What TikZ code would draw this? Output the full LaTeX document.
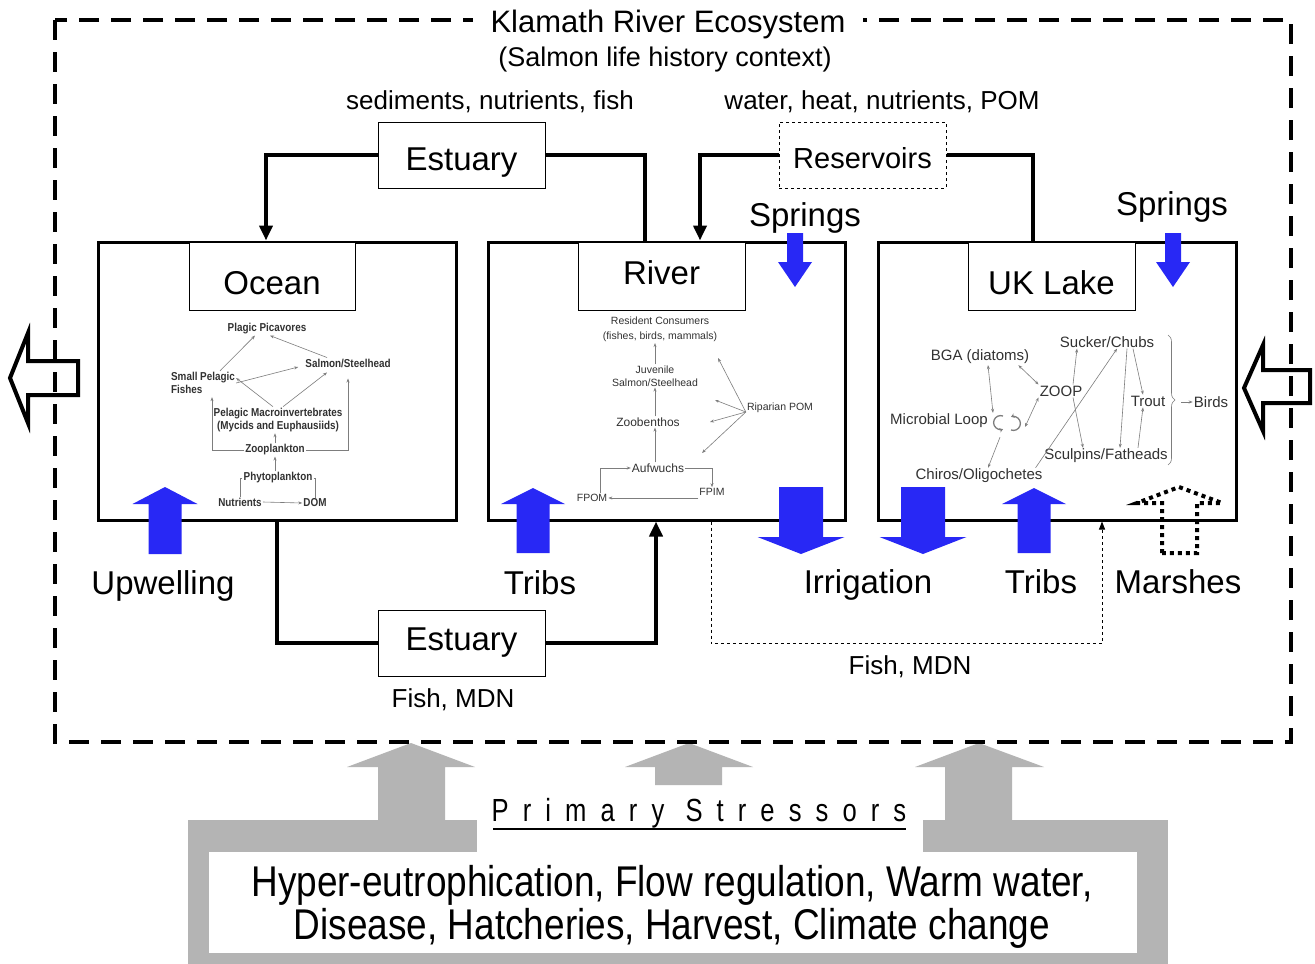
\documentclass[tikz,border=0pt]{standalone}
\usepackage{fontspec}
\setmainfont{Liberation Sans}
\newfontfamily\narrowfont{Liberation Sans}[FakeStretch=0.86]
\newfontfamily\spacedfont{Liberation Sans}[LetterSpace=44,FakeStretch=0.8]
\usetikzlibrary{arrows.meta,decorations.pathreplacing}
\definecolor{ablue}{RGB}{40,40,245}
\definecolor{sgray}{RGB}{180,180,180}
\definecolor{webgray}{RGB}{125,125,125}
\definecolor{webtext}{RGB}{50,50,50}
\begin{document}
\begin{tikzpicture}[x=1pt,y=-1pt,
 bigtxt/.style={font=\fontsize{33}{38}\selectfont},
 flowtxt/.style={font=\fontsize{26}{30}\selectfont},
 mainbox/.style={draw, line width=3pt, inner sep=0pt},
 lblbox/.style={draw, fill=white, line width=1pt, inner sep=0pt, bigtxt},
 conn/.style={line width=4pt},
 conntip/.style={-{Triangle[length=15pt,width=13pt]}},
 bluearr/.style={fill=ablue},
 oweb/.style={font=\narrowfont\bfseries\fontsize{11.5}{13.5}\selectfont, text=webtext, inner sep=1pt, align=center},
 rweb/.style={font=\fontsize{12}{14}\selectfont, text=webtext, inner sep=1pt, align=center},
 uweb/.style={font=\fontsize{15}{18}\selectfont, text=webtext, inner sep=1pt},
 wline/.style={draw=webgray, line width=0.6pt},
 wa/.style={wline, -{Stealth[length=4pt,width=3pt]}},
 wb/.style={wline, {Stealth[length=4pt,width=3pt]}-{Stealth[length=4pt,width=3pt]}},
]
\useasboundingbox (0,0) rectangle (1315,964);
\fill[white] (0,0) rectangle (1315,964);

% ---------- stressors (gray) ----------
\fill[sgray] (188,820) rectangle (1168,964);
\fill[sgray] (378,820) -- (378,767) -- (347,767) -- (411,743) -- (475,767) -- (445,767) -- (445,820) -- cycle;
\fill[sgray] (655,785) -- (655,767) -- (625,767) -- (689,743) -- (753,767) -- (722,767) -- (722,785) -- cycle;
\fill[sgray] (945,820) -- (945,767) -- (915,767) -- (979,743) -- (1044,767) -- (1012,767) -- (1012,820) -- cycle;
\fill[white] (209,852) rectangle (1137,953);
\fill[white] (477,798) rectangle (923,852);
\node[font=\spacedfont\fontsize{32}{34}\selectfont, inner sep=0pt] (ps) at (699,813) {Primary Stressors};
\draw[line width=1.5pt] (493,829) -- (906,829);
\node[font=\narrowfont\fontsize{43}{43}\selectfont, align=center, inner sep=0pt] (stress) at (672,907)
 {Hyper-eutrophication, Flow regulation, Warm water,\\Disease, Hatcheries, Harvest, Climate change};

% ---------- open side arrows ----------
\draw[line width=4pt, fill=white, line join=miter] (78,361) -- (28,361) -- (28,333) -- (10,378) -- (28,423) -- (28,395) -- (78,395) -- cycle;
\draw[line width=4pt, fill=white, line join=miter] (1310,370) -- (1263,370) -- (1263,345) -- (1244,388) -- (1263,431) -- (1263,403) -- (1310,403) -- cycle;

% ---------- outer border and title ----------
\draw[line width=4pt, dash pattern=on 20pt off 12pt] (55,20) rectangle (1291,742);
\node[fill=white, inner xsep=18pt, inner ysep=3pt, font=\fontsize{31}{34}\selectfont] (title) at (668,24) {Klamath River Ecosystem};
\node[font=\fontsize{27}{30}\selectfont] (subtitle) at (665,60) {(Salmon life history context)};
\node[flowtxt] (flowA) at (490,102) {sediments, nutrients, fish};
\node[flowtxt] (flowB) at (882,102) {water, heat, nutrients, POM};

% helper x positions
\coordinate (x266) at (266,0);
\coordinate (x277) at (277,0);
\coordinate (x645) at (645,0);
\coordinate (x656) at (656,0);
\coordinate (x700) at (700,0);
\coordinate (x711) at (711,0);
\coordinate (x1033) at (1033,0);
\coordinate (x1102) at (1102,0);

% ---------- main boxes ----------
\node[mainbox, minimum width=358, minimum height=278] (ocean) at (277,381) {};
\node[mainbox, minimum width=357, minimum height=278] (river) at (666.5,381) {};
\node[mainbox, minimum width=358, minimum height=278] (uk) at (1057,381) {};
\node[lblbox, minimum width=166, minimum height=68] (oceanlbl) at (272,276) {\raisebox{-18pt}[0pt][0pt]{Ocean}};
\node[lblbox, minimum width=167, minimum height=68] (riverlbl) at (661.5,276) {\raisebox{-8pt}[0pt][0pt]{River}};
\node[lblbox, minimum width=167, minimum height=68] (uklbl) at (1051.5,276) {\raisebox{-18pt}[0pt][0pt]{UK Lake}};

% ---------- estuary / reservoirs ----------
\node[lblbox, minimum width=167, minimum height=66] (estA) at (461.5,155) {\raisebox{-15pt}[0pt][0pt]{Estuary}};
\node[lblbox, dashed, minimum width=167, minimum height=66, font=\fontsize{29}{34}\selectfont] (res) at (862.5,155) {\raisebox{-13.5pt}[0pt][0pt]{Reservoirs}};
\node[lblbox, minimum width=167, minimum height=66] (estB) at (461.5,643) {\raisebox{-7pt}[0pt][0pt]{Estuary}};

\draw[conn, conntip] (estA.west) -| (ocean.north -| x266);
\draw[conn] (estA.east) -| (river.north -| x645);
\draw[conn, conntip] (res.west) -| (river.north -| x700);
\draw[conn] (res.east) -| (uk.north -| x1033);
\draw[conn] (ocean.south -| x277) |- (estB.west);
\draw[conn, conntip] (estB.east) -| (river.south -| x656);
\draw[line width=1pt, dashed, -{Triangle[length=8pt,width=6pt]}] (river.south -| x711) -- ++(0,122) -| (uk.south -| x1102);
\node[flowtxt] (fishA) at (453,700) {Fish, MDN};
\node[flowtxt] (fishB) at (910,667) {Fish, MDN};

% ---------- blue arrows ----------
\fill[bluearr] (148.5,554) -- (148.5,504) -- (132.5,504) -- (165,487) -- (197.5,504) -- (181.5,504) -- (181.5,554) -- cycle;
\fill[bluearr] (516.5,553) -- (516.5,504) -- (501,504) -- (533,488) -- (565,504) -- (549.5,504) -- (549.5,553) -- cycle;
\fill[bluearr] (1017.5,553) -- (1017.5,504) -- (1002,504) -- (1034,488) -- (1066,504) -- (1050.5,504) -- (1050.5,553) -- cycle;
\fill[bluearr] (779,487) -- (779,537) -- (757.5,537) -- (801,554) -- (844.5,537) -- (823,537) -- (823,487) -- cycle;
\fill[bluearr] (901,487) -- (901,537) -- (879.5,537) -- (923,554) -- (966.5,537) -- (945,537) -- (945,487) -- cycle;
\fill[bluearr] (787,233) -- (787,262) -- (778,262) -- (795,287) -- (812,262) -- (803,262) -- (803,233) -- cycle;
\fill[bluearr] (1165,233) -- (1165,262) -- (1156,262) -- (1173,287) -- (1190,262) -- (1181,262) -- (1181,233) -- cycle;

% marshes dotted arrow
\draw[line width=4pt, dash pattern=on 4pt off 4pt] (1162,553) -- (1162,503) -- (1137,503) -- (1179,487) -- (1222,503) -- (1197,503) -- (1197,553) -- cycle;

\node[bigtxt] (springsA) at (805,218) {Springs};
\node[bigtxt] (springsB) at (1172,207) {Springs};
\node[bigtxt] (upw) at (163,586) {Upwelling};
\node[bigtxt] (tribsA) at (540,583) {Tribs};
\node[bigtxt] (irr) at (868,585) {Irrigation};
\node[bigtxt] (tribsB) at (1041,582) {Tribs};
\node[bigtxt] (marsh) at (1178,582) {Marshes};

% ---------- Ocean food web ----------
\node[oweb] (pp) at (267,329) {Plagic Picavores};
\node[oweb] (sal) at (348,363) {Salmon/Steelhead};
\node[oweb, align=left] (spf) at (203,383) {Small Pelagic\\Fishes};
\node[oweb] (mac) at (278,420) {Pelagic Macroinvertebrates\\(Mycids and Euphausiids)};
\node[oweb] (zoo) at (275,450) {Zooplankton};
\node[oweb] (phy) at (278,478) {Phytoplankton};
\node[oweb] (nut) at (240,502) {Nutrients};
\node[oweb] (dom) at (315,503) {DOM};
\draw[wa] ([xshift=17pt]spf.north) -- ([xshift=-12pt]pp.south);
\draw[wa] ([xshift=-21pt]sal.north) -- ([xshift=3pt]pp.south);
\draw[wa] (spf.east) -- ([xshift=-6pt,yshift=-4pt]sal.west);
\draw[wa] ([xshift=-5pt]mac.north) -- ([yshift=5pt]spf.east);
\draw[wa] ([xshift=5pt]mac.north) -- ([xshift=-21pt,yshift=-4pt]sal.south);
\draw[wa] (zoo.north) -- (zoo.north |- mac.south);
\draw[wa] (zoo.west) -| ([xshift=9pt,yshift=-2pt]spf.south);
\draw[wa] (zoo.east) -| ([yshift=-10pt]sal.south);
\draw[wa] (phy.north -| zoo.south) -- (zoo.south);
\draw[wline] (phy.west) -| (nut.north);
\draw[wline] (phy.east) -| (dom.north);
\draw[wa] (nut.east) -- (dom.west);

% ---------- River food web ----------
\node[rweb, font=\fontsize{10.5}{15}\selectfont] (rc) at (660,329.5) {Resident Consumers\\(fishes, birds, mammals)};
\node[rweb, font=\fontsize{10.5}{13}\selectfont] (juv) at (655,376) {Juvenile\\Salmon/Steelhead};
\node[rweb] (zb) at (648,422) {Zoobenthos};
\node[rweb, font=\fontsize{10.5}{12}\selectfont] (rip) at (780,408) {Riparian POM};
\node[rweb] (auf) at (658,468) {Aufwuchs};
\node[rweb, font=\fontsize{10.5}{12}\selectfont] (fpom) at (592,498) {FPOM};
\node[rweb, font=\fontsize{10.5}{12}\selectfont] (fpim) at (712,492) {FPIM};
\coordinate (r1) at (718,358);
\coordinate (r2) at (715,400);
\coordinate (r3) at (710,422);
\coordinate (r4) at (702,453);
\draw[wa] (juv.north) -- (juv.north |- rc.south);
\draw[wa] (juv.south |- zb.north) -- (juv.south);
\draw[wa] (juv.south |- auf.north) -- (juv.south |- zb.south);
\draw[wa] ([yshift=-4pt]rip.west) -- (r1);
\draw[wa] ([yshift=-4pt]rip.west) -- (r2);
\draw[wa] ([yshift=-4pt]rip.west) -- (r3);
\draw[wa] ([yshift=-4pt]rip.west) -- (r4);
\draw[wa] ([xshift=8pt]fpom.north) |- (auf.west);
\draw[wa] (auf.east) -| (fpim.north);
\draw[wa] (fpim.west |- fpom.east) -- (fpom.east);

% ---------- UK Lake food web ----------
\node[uweb] (sc) at (1107,342) {Sucker/Chubs};
\node[uweb] (bga) at (980,357) {BGA (diatoms)};
\node[uweb] (zp) at (1061,391) {ZOOP};
\node[uweb] (tr) at (1148,401) {Trout};
\node[uweb] (bd) at (1211,402) {Birds};
\node[uweb] (ml) at (939,421) {Microbial Loop};
\node[uweb] (sf) at (1106,456) {Sculpins/Fatheads};
\node[uweb] (ch) at (979,476) {Chiros/Oligochetes};
\draw[wb] ([xshift=8pt]bga.south) -- ([xshift=4pt]ml.north east);
\draw[wb] ([xshift=-12pt]bga.south east) -- (zp.north west);
\draw[wb] (zp.south west) -- ([xshift=36pt,yshift=-6pt]ml.east);
\draw[wa] ([xshift=12pt]zp.north) -- ([xshift=-30pt]sc.south);
\draw[wa] ([xshift=12pt]zp.south) -- ([xshift=-23pt]sf.north);
\draw[wa] ([xshift=-8pt]ch.north east) -- ([xshift=10pt]sc.south);
\draw[wa] ([xshift=20pt]sc.south) -- ([xshift=14pt]sf.north);
\draw[wa] ([xshift=26pt]sc.south) -- ([xshift=-5pt]tr.north);
\draw[wa] ([xshift=32pt]sf.north) -- ([xshift=-5pt]tr.south);
\draw[wa] ([xshift=61pt,yshift=-8pt]ml.south) -- ([xshift=9pt]ch.north);
\draw[wline, decorate, decoration={brace, amplitude=7pt}] (1168,335) -- (1168,465);
\draw[wa] (1181,402) -- (bd.west);
% microbial loop cycle symbol
\draw[webgray, line width=1.3pt, -{Stealth[length=3.5pt,width=4.5pt]}] (1003,416) arc[start angle=-70, end angle=-290, radius=7];
\draw[webgray, line width=1.3pt, -{Stealth[length=3.5pt,width=4.5pt]}] (1011,430) arc[start angle=110, end angle=-110, radius=7];
\end{tikzpicture}
\end{document}
